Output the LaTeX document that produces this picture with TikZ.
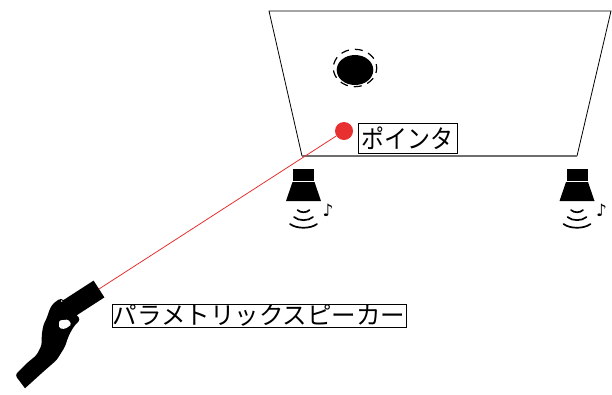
\documentclass[tikz,border=0pt]{standalone}
\usepackage{fontspec}
\newfontfamily\jpfont{Noto Sans CJK JP}
\newfontfamily\symfont{DejaVu Sans}
\definecolor{laserred}{RGB}{232,48,48}
\definecolor{edgegray}{RGB}{110,110,110}
\begin{document}
\begin{tikzpicture}[x=1pt,y=-1pt,
  tag/.style={draw, line width=0.7pt, inner sep=0pt, font=\jpfont},
  wave/.style={line width=1.7pt, line cap=round},
  speakerpic/.pic={
    \fill (-10.5,0) rectangle (10.5,12);
    \fill (-11,13) -- (11,13) -- (17.5,32) -- (-17.5,32) -- cycle;
    \draw[wave] (-6,41) .. controls (-3,44) and (3,44) .. (6,41);
    \draw[wave] (-9.5,48) .. controls (-4.8,52.2) and (4.8,52.2) .. (9.5,48);
    \draw[wave] (-13.5,55) .. controls (-6.8,60) and (6.8,60) .. (13.5,55);
    \node[font=\symfont\fontsize{17}{17}\selectfont, inner sep=0pt] at (24.5,41) {♪};
  }]
\useasboundingbox (0,0) rectangle (612,394);

% projection screen
\coordinate (stl) at (269,11);
\coordinate (str) at (611,11);
\coordinate (sbr) at (577,156);
\coordinate (sbl) at (302,156);
\draw[line width=0.8pt] (sbl) -- (stl) -- (str) -- (sbr);
\draw[edgegray, line width=2.4pt] (sbr) -- (sbl);

% object on the screen with its dashed halo
\fill (355,70) ellipse [x radius=18.3, y radius=15];
\draw[line width=1.2pt, dash pattern=on 8pt off 6pt, dash phase=3pt]
  (355,68) ellipse [x radius=21.7, y radius=18.7];

% speakers under the screen
\pic at (303.5,169) {speakerpic};
\pic at (577,169) {speakerpic};

% hand holding the parametric speaker
\coordinate (emitter) at (99,289);
\fill (93.6,280.6) -- (104.4,297.4) -- (74.2,316.9) -- (63.4,300.1) -- cycle;
\fill[rounded corners=3pt]
  (61,298) -- (53.3,303.3) -- (50,308.3) -- (46.7,318.3) -- (43.3,325)
  -- (41.7,335) -- (41.7,345) -- (36.7,355) -- (26.7,363.3) -- (15,375)
  [sharp corners] -- (25,388.3) [rounded corners=3pt] -- (43.3,371.7)
  -- (56.7,360) -- (65,346.7) -- (68.3,336.7) -- (71.7,330) -- (75,325)
  -- (80.5,319.5) -- (77,315.5) -- (66,302) -- cycle;
\fill[white, rounded corners=1.5pt]
  (59,320.5) -- (68.3,319.5) -- (71.5,324.5) -- (65,329) -- (59.3,328.3) -- cycle;
\fill[white] (61.7,301) circle [radius=0.8];

% laser beam and pointer spot
\node[circle, fill=laserred, minimum size=18pt, inner sep=0pt] (pointer) at (344,131) {};
\draw[laserred, line width=0.8pt] (emitter) -- (pointer);

% labels
\node[tag, minimum width=99pt, minimum height=30pt,
  font=\jpfont\fontsize{25.5}{25.5}\selectfont] (pointerlabel) at (407.5,138)
  {\makebox[90pt][c]{\scalebox{0.9}[1]{ポインタ}}};
\node[tag, minimum width=294pt, minimum height=23pt,
  font=\jpfont\fontsize{24.5}{24.5}\selectfont] (speakerlabel) at (259,315.5)
  {\makebox[280pt][c]{パラメトリックスピーカー}};
\end{tikzpicture}
\end{document}
